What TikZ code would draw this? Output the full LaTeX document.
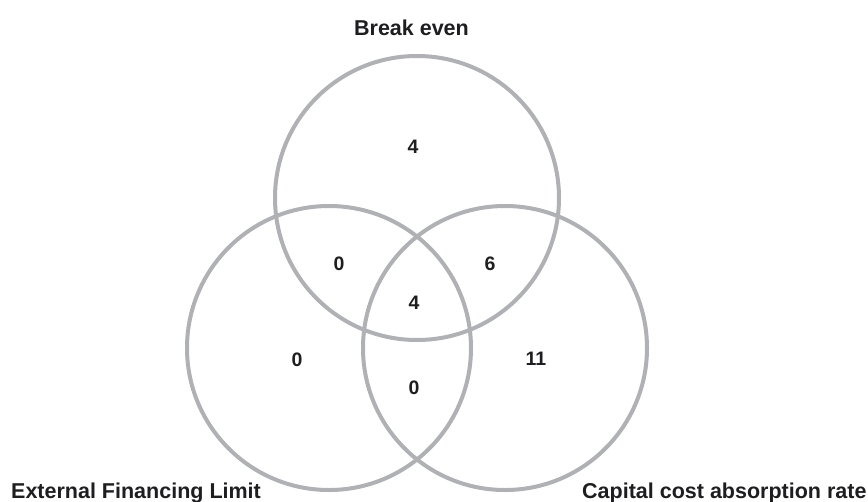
\documentclass[tikz,border=0pt]{standalone}
\usepackage{fontspec}
\setmainfont{Liberation Sans}
\definecolor{ringgray}{RGB}{176,177,181}
\definecolor{txtblack}{RGB}{30,30,32}
\begin{document}
\begin{tikzpicture}[x=1pt,y=-1pt,
  ring/.style={draw=ringgray,line width=4pt},
  setlabel/.style={font=\fontsize{21.5}{24}\selectfont\bfseries,text=txtblack,inner sep=0pt},
  count/.style={font=\fontsize{19.5}{22}\selectfont\bfseries,text=txtblack,inner sep=0pt,anchor=base}]
\useasboundingbox (0,0) rectangle (868,501);
\node[ring,circle,minimum size=284pt,inner sep=0pt] (top) at (417,198) {};
\node[ring,circle,minimum size=284pt,inner sep=0pt] (left) at (329,348) {};
\node[ring,circle,minimum size=284pt,inner sep=0pt] (right) at (505,348) {};
\node[setlabel,anchor=base] (lbe) at (411.5,35) {Break even};
\node[setlabel,anchor=base west] (lefl) at (11,498) {External Financing Limit};
\node[setlabel,anchor=base west] (lcca) at (582,498) {Capital cost absorption rate};
\node[count] (ntop) at (413,153) {4};
\node[count] (ntl) at (339,270) {0};
\node[count] (ntr) at (490,270) {6};
\node[count] (nall) at (414,309) {4};
\node[count] (nl) at (297,366) {0};
\node[count] (nr) at (536,365) {11};
\node[count] (nlr) at (414,394) {0};
\end{tikzpicture}
\end{document}
